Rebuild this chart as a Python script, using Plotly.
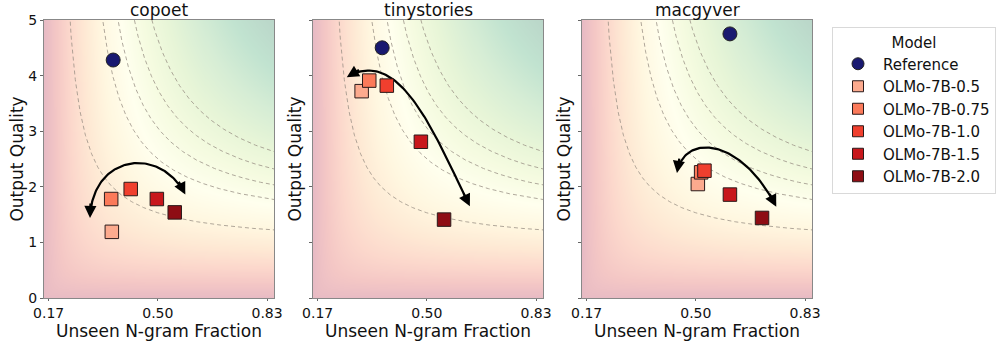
import numpy as np
import plotly.graph_objects as go

# ---------------- data ----------------
DATASETS = ["copoet", "tinystories", "macgyver"]
MODELS = ["OLMo-7B-0.5", "OLMo-7B-0.75", "OLMo-7B-1.0", "OLMo-7B-1.5", "OLMo-7B-2.0"]
MODEL_COLORS = ["#fcaa8e", "#fb7a5a", "#f03f2e", "#c8171c", "#8e0d14"]
REF_COLOR = "#191970"

REF_X = [0.365, 0.365, 0.603]
REF_Y = [4.28, 4.50, 4.75]

copoet_x = [0.361, 0.359, 0.418, 0.497, 0.551]
copoet_y = [1.19, 1.78, 1.96, 1.78, 1.54]
tinystories_x = [0.303, 0.326, 0.379, 0.482, 0.552]
tinystories_y = [3.72, 3.91, 3.82, 2.81, 1.41]
macgyver_x = [0.506, 0.516, 0.526, 0.603, 0.700]
macgyver_y = [2.05, 2.26, 2.29, 1.86, 1.44]
MODEL_X = [copoet_x, tinystories_x, macgyver_x]
MODEL_Y = [copoet_y, tinystories_y, macgyver_y]

X_TICKS = [0.17, 0.50, 0.83]
X_TICK_LABELS = ["0.17", "0.50", "0.83"]
Y_TICKS = [0, 1, 2, 3, 4, 5]
X_RANGE = [0.156, 0.851]
Y_RANGE = [0, 5]

# harmonic-mean iso-lines (x vs quality/5)
CONTOUR_LEVELS = [0.38, 0.50, 0.55, 0.60, 0.65]

# curved double arrows: start, control1, control2, end (data coords)
ARROW_P0 = [(0.295, 1.44), (0.258, 3.97), (0.443, 2.25)]
ARROW_C1 = [(0.301, 2.58), (0.419, 4.55), (0.462, 2.95)]
ARROW_C2 = [(0.507, 2.75), (0.525, 2.93), (0.633, 2.92)]
ARROW_P3 = [(0.583, 1.86), (0.630, 1.65), (0.743, 1.64)]

# ---------------- layout geometry ----------------
W, H = 1000, 347
ML, MR, MT, MB = 44, 188, 20, 49
PW, PH = W - ML - MR, H - MT - MB
PANEL_LEFT_PX = [44, 313, 582]
PANEL_W_PX = 230
X_DOMAINS = [[(p - ML) / PW, min(1.0, (p - ML + PANEL_W_PX) / PW)] for p in PANEL_LEFT_PX]
FONT = "DejaVu Sans"

# background colour scale: RdYlGn blended with white
RDYLGN = ["#a50026", "#d73027", "#f46d43", "#fdae61", "#fee08b", "#ffffbf",
          "#d9ef8b", "#a6d96a", "#66bd63", "#1a9850", "#006837"]
ALPHA = 0.27


def blend(hexc, a):
    r, g, b = (int(hexc[i:i + 2], 16) for i in (1, 3, 5))
    return "rgb(%d,%d,%d)" % tuple(round(255 - a * (255 - c)) for c in (r, g, b))


BG_SCALE = [[i / (len(RDYLGN) - 1), blend(c, ALPHA)] for i, c in enumerate(RDYLGN)]

fig = go.Figure()

gx = np.linspace(0.14, 0.87, 240)
gy = np.linspace(-0.05, 5.05, 240)
GX, GY = np.meshgrid(gx, gy)
xn = np.clip((GX - X_RANGE[0]) / (X_RANGE[1] - X_RANGE[0]), 0, 1)
yn = np.clip(GY / 5, 0, 1)
Z = 2 * xn * yn / (xn + yn + 1e-9)

PX_PER_X = PANEL_W_PX / (X_RANGE[1] - X_RANGE[0])
PX_PER_Y = PH / (Y_RANGE[1] - Y_RANGE[0])


def bezier(p0, c1, c2, p3, t):
    t = np.asarray(t)[:, None]
    p0, c1, c2, p3 = (np.array(p) for p in (p0, c1, c2, p3))
    return ((1 - t) ** 3) * p0 + 3 * ((1 - t) ** 2) * t * c1 + 3 * (1 - t) * t ** 2 * c2 + t ** 3 * p3


annotations = []
for i, name in enumerate(DATASETS):
    xa = "x" if i == 0 else "x%d" % (i + 1)
    ya = "y" if i == 0 else "y%d" % (i + 1)
    # background
    fig.add_trace(go.Heatmap(x=gx, y=gy, z=Z, colorscale=BG_SCALE, zmin=0.0, zmax=1.0,
                             showscale=False, hoverinfo="skip", xaxis=xa, yaxis=ya,
                             zsmooth="best"))
    # iso lines
    for lev in CONTOUR_LEVELS:
        cx = np.linspace(lev / 2 + 1e-4, 0.9, 600)
        cy = 5 * lev * cx / (2 * cx - lev)
        m = cy < 6
        fig.add_trace(go.Scatter(x=cx[m], y=cy[m], mode="lines",
                                 line=dict(color="rgba(150,140,130,0.75)", width=1, dash="4px,3px"),
                                 hoverinfo="skip", showlegend=False, xaxis=xa, yaxis=ya))
    # arrow curve
    pts = bezier(ARROW_P0[i], ARROW_C1[i], ARROW_C2[i], ARROW_P3[i], np.linspace(0.03, 0.97, 80))
    fig.add_trace(go.Scatter(x=pts[:, 0], y=pts[:, 1], mode="lines",
                             line=dict(color="black", width=2.2), hoverinfo="skip",
                             showlegend=False, xaxis=xa, yaxis=ya))
    for tip, ctl in ((ARROW_P0[i], ARROW_C1[i]), (ARROW_P3[i], ARROW_C2[i])):
        dxp = (ctl[0] - tip[0]) * PX_PER_X
        dyp = (ctl[1] - tip[1]) * PX_PER_Y
        s = 16.0 / np.hypot(dxp, dyp)
        tail = (tip[0] + s * (ctl[0] - tip[0]), tip[1] + s * (ctl[1] - tip[1]))
        annotations.append(dict(x=tip[0], y=tip[1], ax=tail[0], ay=tail[1],
                                xref=xa, yref=ya, axref=xa, ayref=ya, text="",
                                showarrow=True, arrowhead=2, arrowsize=1.1,
                                arrowwidth=2.2, arrowcolor="black"))
    # reference point
    fig.add_trace(go.Scatter(x=[REF_X[i]], y=[REF_Y[i]], mode="markers", name="Reference",
                             marker=dict(symbol="circle", size=14, color=REF_COLOR,
                                         line=dict(color="#222", width=1)),
                             showlegend=False, xaxis=xa, yaxis=ya))
    for k, mname in enumerate(MODELS):
        fig.add_trace(go.Scatter(x=[MODEL_X[i][k]], y=[MODEL_Y[i][k]], mode="markers", name=mname,
                                 marker=dict(symbol="square", size=13.5, color=MODEL_COLORS[k],
                                             line=dict(color="#2a1a1a", width=1)),
                                 showlegend=False, xaxis=xa, yaxis=ya))
    # subplot title
    annotations.append(dict(x=sum(X_DOMAINS[i]) / 2, y=1 + 9.5 / PH, xref="paper", yref="paper",
                            text=name, showarrow=False, xanchor="center", yanchor="middle",
                            font=dict(family=FONT, size=17, color="#111")))

# legend-only entries (smaller symbols, like the reference legend)
fig.add_trace(go.Scatter(x=[None], y=[None], mode="markers", name="Reference",
                         marker=dict(symbol="circle", size=12, color=REF_COLOR,
                                     line=dict(color="#222", width=1))))
for k, mname in enumerate(MODELS):
    fig.add_trace(go.Scatter(x=[None], y=[None], mode="markers", name=mname,
                             marker=dict(symbol="square", size=11, color=MODEL_COLORS[k],
                                         line=dict(color="#2a1a1a", width=1))))

layout = dict(
    width=W, height=H, margin=dict(l=ML, r=MR, t=MT, b=MB, pad=0, autoexpand=False),
    paper_bgcolor="white", plot_bgcolor="white",
    font=dict(family=FONT, size=14, color="#111"),
    annotations=annotations,
    legend=dict(xref="container", yref="container", x=832 / W, y=1 - 27 / H,
                xanchor="left", yanchor="top",
                bordercolor="#d9d9d9", borderwidth=1, bgcolor="white",
                font=dict(family=FONT, size=15, color="#111"),
                title=dict(text="Model", side="top center", font=dict(family=FONT, size=15)),
                traceorder="normal", itemwidth=40),
)
for i in range(3):
    xk = "xaxis" if i == 0 else "xaxis%d" % (i + 1)
    yk = "yaxis" if i == 0 else "yaxis%d" % (i + 1)
    layout[xk] = dict(domain=X_DOMAINS[i], range=X_RANGE, anchor="y" if i == 0 else "y%d" % (i + 1),
                      tickvals=X_TICKS, ticktext=X_TICK_LABELS, ticks="outside", ticklen=2,
                      tickcolor="#666", showline=True, linecolor="#888", linewidth=1, mirror=True,
                      showgrid=False, zeroline=False, tickfont=dict(size=14), automargin=False,
                      title=dict(text="Unseen N-gram Fraction", font=dict(size=17), standoff=0))
    layout[yk] = dict(domain=[0, 1], range=Y_RANGE, anchor="x" if i == 0 else "x%d" % (i + 1),
                      tickvals=Y_TICKS, ticks="outside", ticklen=3, tickcolor="#666",
                      showticklabels=True, showline=True, linecolor="#888", linewidth=1,
                      mirror=True, showgrid=False, zeroline=False, tickfont=dict(size=14),
                      automargin=False,
                      title=dict(text="Output Quality", font=dict(size=17), standoff=0))
    if i > 0:
        layout[yk]["ticktext"] = [""] * len(Y_TICKS)
fig.update_layout(**layout)

fig.write_html("out.html")
